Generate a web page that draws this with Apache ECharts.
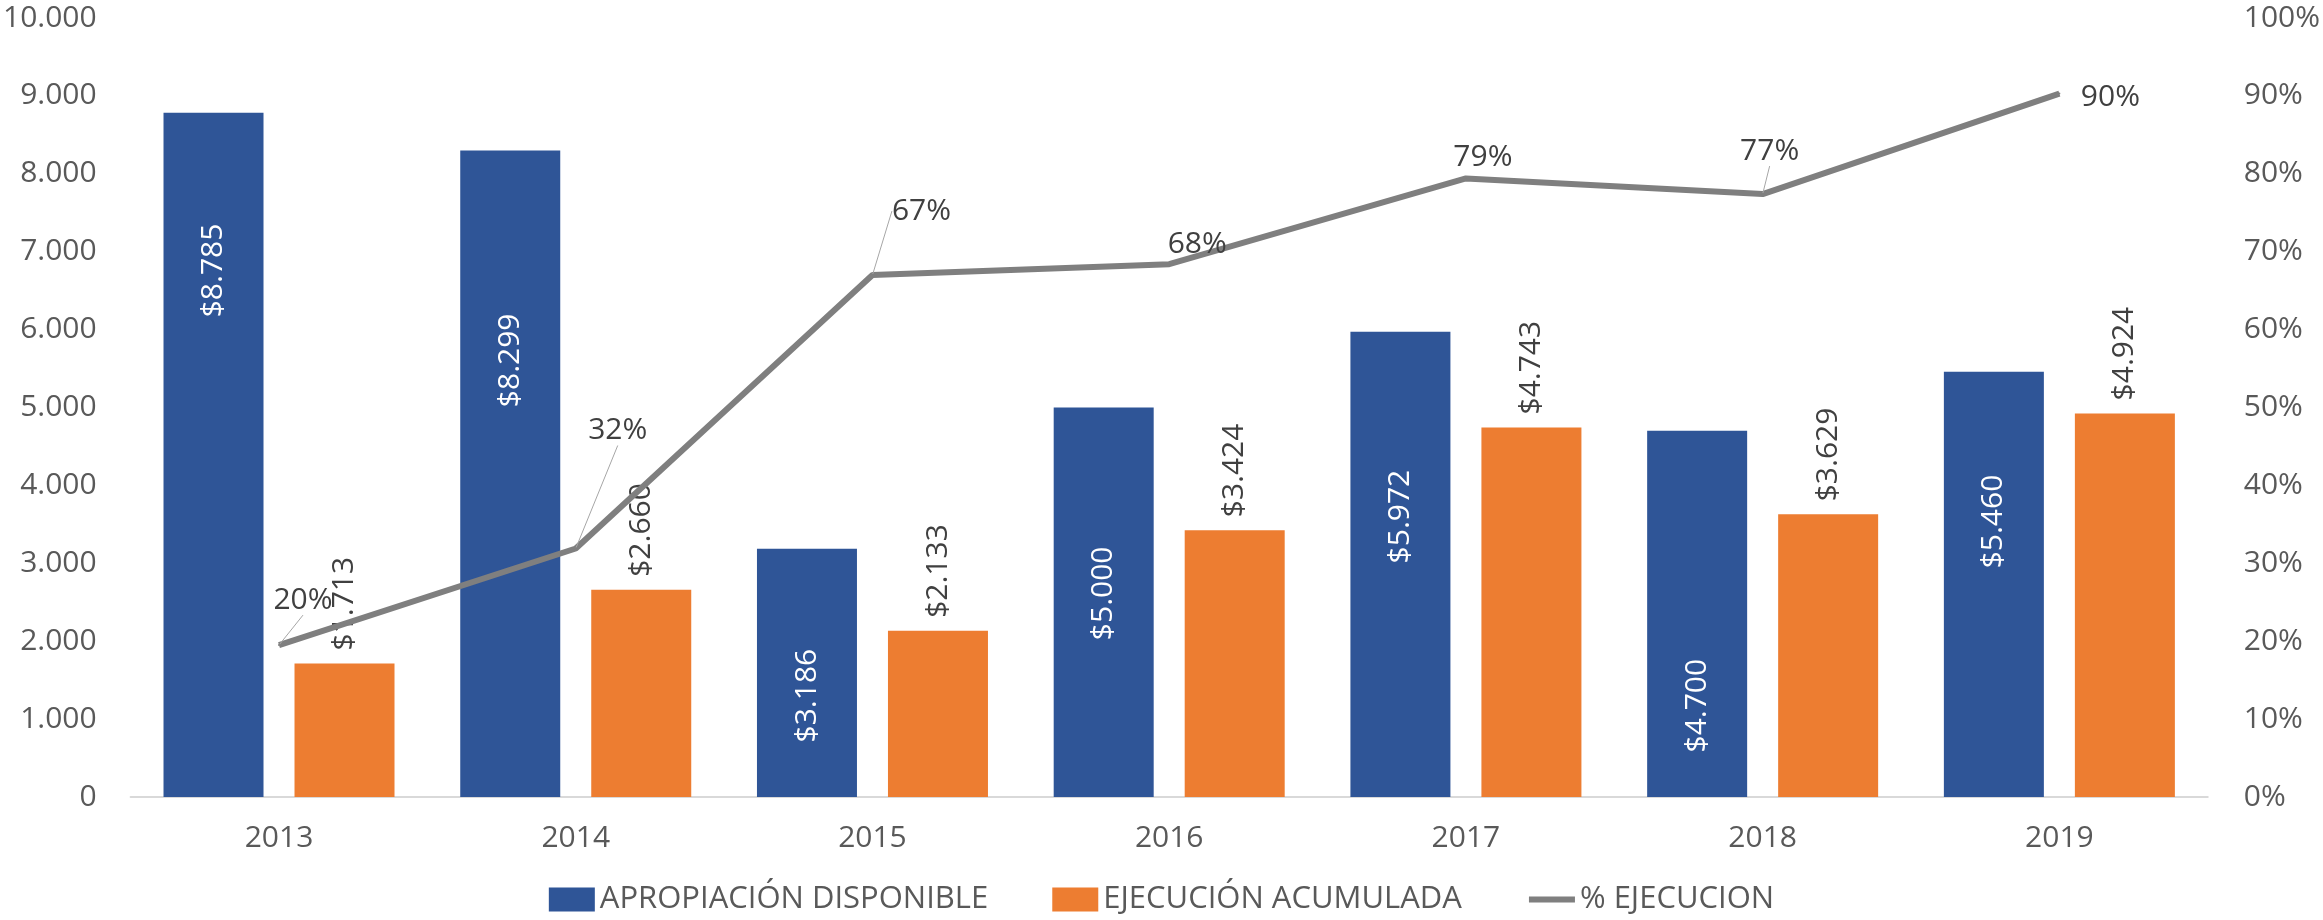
<!DOCTYPE html>
<html>
<head>
<meta charset="utf-8">
<title>Apropiación disponible vs ejecución acumulada</title>
<script src="https://cdn.jsdelivr.net/npm/echarts@6/dist/echarts.min.js"></script>
<style>
  html, body { margin: 0; padding: 0; background: #fff; }
  #chart { width: 2323px; height: 920px; }
</style>
</head>
<body>
<div id="chart"></div>
<script>
const years = ['2013', '2014', '2015', '2016', '2017', '2018', '2019']
const apropiacion = [8785, 8299, 3186, 5000, 5972, 4700, 5460]
const ejecucion = [1713, 2660, 2133, 3424, 4743, 3629, 4924]
const pctEjecucion = [19.5, 31.9, 67.0, 68.4, 79.4, 77.4, 90.3]

// label placement tweaks (px)
const blueLabelDrop = [111, 163, 100, 139, 138, 228, 103]
const pctLabelShift = [[24, -45], [42, -118], [49, -64], [28, -20], [17, -21], [7, -43], [51, 4]]
const pctLeader = [true, true, true, false, false, true, false]

const FONT = '"Open Sans", sans-serif'
const miles = n => String(n).replace(/\B(?=(\d{3})+(?!\d))/g, '.')

const chart = echarts.init(document.getElementById('chart'), null, { renderer: 'canvas' })

const option = {
  animation: false,
  textStyle: { fontFamily: FONT },
  grid: { left: 130, right: 115, top: 18, bottom: 123 },
  legend: {
    bottom: 0,
    left: 'center',
    itemWidth: 46,
    itemHeight: 24,
    itemGap: 64,
    textStyle: { color: '#595959', fontSize: 31, fontFamily: FONT },
    data: [
      { name: 'APROPIACIÓN DISPONIBLE', icon: 'rect' },
      { name: 'EJECUCIÓN ACUMULADA', icon: 'rect' },
      { name: '% EJECUCION', itemStyle: { opacity: 0 }, lineStyle: { width: 6 } }
    ]
  },
  xAxis: {
    type: 'category',
    data: years,
    axisLine: { lineStyle: { color: '#d9d9d9', width: 2 } },
    axisTick: { show: false },
    axisLabel: { color: '#595959', fontSize: 30, margin: 26 }
  },
  yAxis: [
    {
      type: 'value',
      min: 0,
      max: 10000,
      interval: 1000,
      splitLine: { show: false },
      axisLine: { show: false },
      axisTick: { show: false },
      axisLabel: { color: '#595959', fontSize: 30, margin: 34, formatter: v => miles(v) }
    },
    {
      type: 'value',
      min: 0,
      max: 100,
      interval: 10,
      splitLine: { show: false },
      axisLine: { show: false },
      axisTick: { show: false },
      axisLabel: { color: '#595959', fontSize: 30, margin: 36, formatter: '{value}%' }
    }
  ],
  series: [
    {
      name: 'APROPIACIÓN DISPONIBLE',
      type: 'bar',
      barWidth: 100,
      barGap: '31%',
      itemStyle: { color: '#2f5597' },
      data: apropiacion.map((v, i) => ({
        value: v,
        label: { distance: blueLabelDrop[i] }
      })),
      label: {
        show: true,
        position: 'insideTop',
        rotate: 90,
        align: 'right',
        verticalAlign: 'middle',
        color: '#ffffff',
        fontSize: 30,
        formatter: p => '$' + miles(p.value)
      }
    },
    {
      name: 'EJECUCIÓN ACUMULADA',
      type: 'bar',
      barWidth: 100,
      itemStyle: { color: '#ed7d31' },
      data: ejecucion,
      label: {
        show: true,
        position: 'top',
        distance: 13,
        rotate: 90,
        align: 'left',
        verticalAlign: 'middle',
        color: '#404040',
        fontSize: 30,
        formatter: p => '$' + miles(p.value)
      }
    },
    {
      name: '% EJECUCION',
      type: 'line',
      yAxisIndex: 1,
      symbol: 'circle',
      symbolSize: 2,
      itemStyle: { color: '#7f7f7f' },
      lineStyle: { color: '#7f7f7f', width: 6 },
      z: 5,
      data: pctEjecucion.map((v, i) => ({
        value: v,
        labelLine: { show: pctLeader[i] }
      })),
      label: {
        show: true,
        position: 'top',
        color: '#404040',
        fontSize: 30,
        formatter: p => Math.round(p.value) + '%'
      },
      labelLine: { show: false, lineStyle: { color: '#a6a6a6', width: 1 } },
      labelLayout: params => {
        const s = pctLabelShift[params.dataIndex]
        return {
          x: params.rect.x + params.rect.width / 2 + s[0],
          y: params.rect.y + params.rect.height / 2 + s[1],
          align: 'center',
          verticalAlign: 'middle'
        }
      }
    }
  ]
}

chart.setOption(option)
window.addEventListener('resize', () => chart.resize())
</script>
</body>
</html>
